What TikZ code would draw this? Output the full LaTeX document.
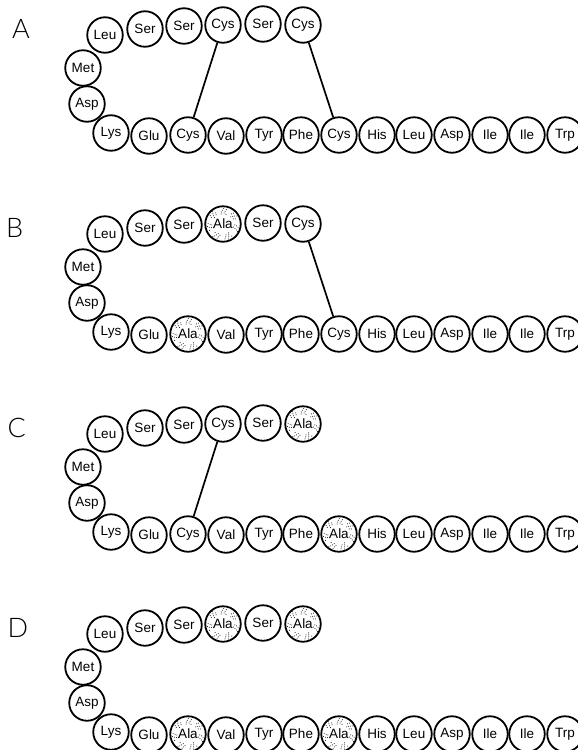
\documentclass[tikz,border=0pt]{standalone}
\usepackage{fontspec}
\setmainfont{Liberation Sans}
\newfontfamily\panelfont{Lato Light}
\tikzset{
  res/.style={circle, draw, line width=1.8pt, minimum size=35.5pt, inner sep=0pt,
    fill=white, font=\fontsize{13.5}{13.5}\selectfont},
  cysres/.style={res},
  % stippled residue: dots scattered (low-discrepancy sequence) over a ring
  % just inside the outline
  alares/.style={res, path picture={%
      \foreach \i in {1,...,55}{%
        \pgfmathsetmacro\ang{360*(\i*0.56984 - floor(\i*0.56984))}%
        \pgfmathsetmacro\rad{10+6.5*(\i*0.75488 - floor(\i*0.75488))}%
        \fill[black] (path picture bounding box.center) ++(\ang:\rad pt) circle (0.5pt);
      }}},
  bond/.style={line width=1.7pt},
  panellabel/.style={anchor=base west, inner sep=0pt,
    font=\panelfont\fontsize{27}{27}\selectfont}
}
% one copy of the peptide chain; #1 name prefix, #2 vertical offset,
% #3/#4 style and text of the first variable pair, #5/#6 of the second
\newcommand\chain[6]{%
  \begin{scope}[shift={(0,#2)}]
    \node[res] (#1t1) at (105,35) {Leu};
    \node[res] (#1t2) at (145,29) {Ser};
    \node[res] (#1t3) at (184,26) {Ser};
    \node[#3]  (#1t4) at (223,25) {#4};
    \node[res] (#1t5) at (263,24) {Ser};
    \node[#5]  (#1t6) at (303,25) {#6};
    \node[res] (#1m)  at (83,68)  {Met};
    \node[res] (#1a)  at (87,104) {Asp};
    \node[res] (#1b1) at (111,133) {Lys};
    \node[res] (#1b2) at (149,136) {Glu};
    \node[#3]  (#1b3) at (188,135) {#4};
    \node[res] (#1b4) at (226,136) {Val};
    \node[res] (#1b5) at (264,135) {Tyr};
    \node[res] (#1b6) at (301,135) {Phe};
    \node[#5]  (#1b7) at (339,135) {#6};
    \node[res] (#1b8) at (377,135) {His};
    \node[res] (#1b9) at (414,135) {Leu};
    \node[res] (#1b10) at (452,135) {Asp};
    \node[res] (#1b11) at (490,135) {Ile};
    \node[res] (#1b12) at (527,135) {Ile};
    \node[res] (#1b13) at (565,135) {Trp};
  \end{scope}}
\begin{document}
\begin{tikzpicture}[x=1pt, y=-1pt]
  \useasboundingbox (0,0) rectangle (578,750);
  \clip (0,0) rectangle (578,750);

  % A: both disulfide bridges
  \node[panellabel] (labA) at (12,38) {A};
  \chain{A}{0}{cysres}{Cys}{cysres}{Cys}
  \draw[bond] (At4) -- (Ab3);
  \draw[bond] (At6) -- (Ab7);

  % B: first pair replaced by Ala
  \node[panellabel] (labB) at (6,237) {B};
  \chain{B}{199}{alares}{Ala}{cysres}{Cys}
  \draw[bond] (Bt6) -- (Bb7);

  % C: second pair replaced by Ala
  \node[panellabel] (labC) at (7.5,437) {C};
  \chain{C}{399}{cysres}{Cys}{alares}{Ala}
  \draw[bond] (Ct4) -- (Cb3);

  % D: no bridges
  \node[panellabel] (labD) at (7.5,637) {D};
  \chain{D}{599}{alares}{Ala}{alares}{Ala}
\end{tikzpicture}
\end{document}
